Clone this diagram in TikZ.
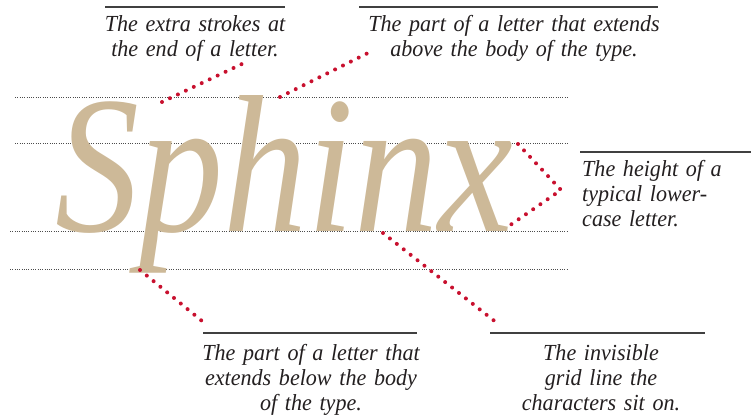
\documentclass[tikz,border=0pt]{standalone}
\usepackage{fontspec}
\setmainfont{Liberation Serif}
\newfontfamily\capfont[FakeStretch=0.96]{Liberation Serif}
\usetikzlibrary{calc}
\definecolor{sphinxtan}{RGB}{205,185,152}
\definecolor{dotred}{RGB}{200,16,46}
\definecolor{inkgray}{RGB}{35,31,32}

\begin{document}
\begin{tikzpicture}[x=1pt,y=-1pt,
    guide/.style={black!70,line width=0.8pt,dash pattern=on 0.8pt off 1.5pt},
    pointer/.style={dotred,line width=4pt,line cap=round,dash pattern=on 0pt off 8.8pt},
    rulebar/.style={black!75,line width=1.2pt},
    caption/.style={font=\capfont\fontsize{23}{25}\selectfont\itshape,text=inkgray,
                    inner sep=0pt,text width=320pt,align=center,anchor=base}]
  \useasboundingbox (0,0) rectangle (751,417);

  \draw[guide] (15,97)  -- (568,97);
  \draw[guide] (15,143) -- (568,143);
  \draw[guide] (10,231) -- (568,231);
  \draw[guide] (10,269) -- (568,269);

  \node[font=\fontsize{196}{196}\selectfont\itshape,text=sphinxtan,inner sep=0pt,
        anchor=base west] (word) at (55,231) {\scalebox{0.858}[1]{Sphinx}};

  \node[caption] (serifcap) at (195,32) {The extra strokes at\\the end of a letter.};
  \node[caption] (ascap) at (514,32) {The part of a letter that extends\\above the body of the type.};
  \node[caption,text width=170pt,align=left,anchor=base west] (xcap) at (582,176)
       {The height of a\\typical lower-\\case letter.};
  \node[caption] (descap) at (311,360) {The part of a letter that\\extends below the body\\of the type.};
  \node[caption] (basecap) at (601,360) {The invisible\\grid line the\\characters sit on.};

  \draw[rulebar] ($(serifcap.base)+(-90,-25)$) -- ++(180,0);
  \draw[rulebar] ($(ascap.base)+(-155,-25)$) -- ++(299,0);
  \draw[rulebar] ($(xcap.base west)+(-2,-24)$) -- ++(173,0);
  \draw[rulebar] ($(descap.base)+(-108,-27)$) -- ++(214,0);
  \draw[rulebar] ($(basecap.base)+(-111,-27)$) -- ++(215,0);

  \coordinate (serif)   at (162,102);
  \coordinate (serifend) at (244,63);
  \coordinate (asc)     at (280,97);
  \coordinate (ascend)  at (374,50);
  \coordinate (xtop)    at (518,144);
  \coordinate (xtip)    at (561,190);
  \coordinate (xbot)    at (506,228);
  \coordinate (desc)    at (140,270);
  \coordinate (descend) at (202,321);
  \coordinate (base)    at (383,233);
  \coordinate (baseend) at (497,323);

  \draw[pointer] (serif) -- (serifend);
  \draw[pointer] (asc) -- (ascend);
  \draw[pointer] (xtop) -- (xtip) -- (xbot);
  \draw[pointer] (desc) -- (descend);
  \draw[pointer] (base) -- (baseend);
\end{tikzpicture}
\end{document}
